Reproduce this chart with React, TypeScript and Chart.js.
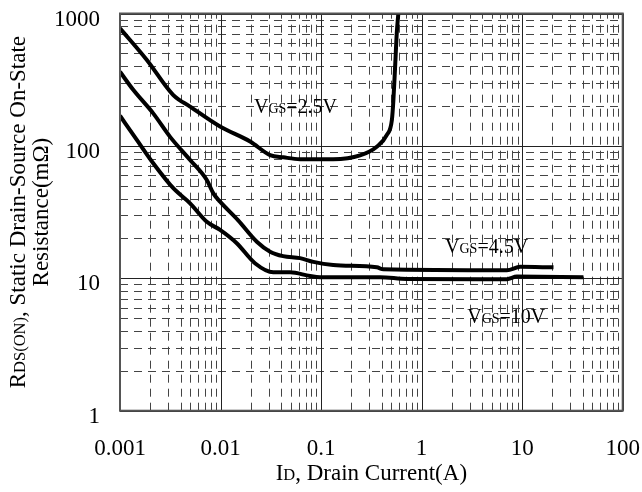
import React, { useEffect, useRef } from 'react';
import { Chart, registerables } from 'chart.js';

Chart.register(...registerables);

// ---- axis ticks ----
const X_TICK_VALUES = [0.001, 0.01, 0.1, 1, 10, 100];
const X_TICK_LABELS = ['0.001', '0.01', '0.1', '1', '10', '100'];
const Y_TICK_VALUES = [1, 10, 100, 1000];
const Y_TICK_LABELS = ['1', '10', '100', '1000'];

// ---- series: VGS = 2.5V ----
const ID_VGS25 = [0.001, 0.00185, 0.00339, 0.00498, 0.00989, 0.0197, 0.0311, 0.0422, 0.0618, 0.132, 0.244, 0.358, 0.451, 0.506, 0.524, 0.545, 0.566, 0.59];
const R_VGS25 = [773, 446, 242, 198, 140, 108, 85.3, 82, 79.3, 79.3, 84.7, 98.6, 121, 157, 222, 397, 710, 1050];

// ---- series: VGS = 4.5V ----
const ID_VGS45 = [0.001, 0.00136, 0.00214, 0.00315, 0.00498, 0.0073, 0.00848, 0.00989, 0.0149, 0.0231, 0.0311, 0.0419, 0.0618, 0.0838, 0.132, 0.358, 0.417, 7.05, 9.55, 20.5];
const R_VGS45 = [363, 264, 176, 117, 78.3, 55.2, 43.8, 37.9, 27.5, 18.8, 15.9, 14.7, 14.2, 13.3, 12.6, 12.1, 11.7, 11.5, 12.2, 12.1];

// ---- series: VGS = 10V ----
const ID_VGS10 = [0.001, 0.00147, 0.00214, 0.00339, 0.00498, 0.0073, 0.00989, 0.0145, 0.022, 0.0335, 0.0492, 0.0778, 0.0977, 0.386, 0.713, 7.05, 8.85, 40.7];
const R_VGS10 = [169, 111, 74, 47.9, 36.8, 26.7, 23.2, 18.4, 13.0, 11.1, 11.1, 10.4, 10.2, 10.2, 9.88, 9.85, 10.3, 10.2];

// ---- curve labels (anchored in data coordinates) ----
const LABEL_VALUES = ['=2.5V', '=4.5V', '=10V'];
const LABEL_ID = [0.0215, 1.71, 2.84];
const LABEL_R = [177, 15.5, 4.6];

const FONT = "'Liberation Serif', 'Times New Roman', serif";
const MAIN = 23;
const SMALL = 16.5;

type Part = [string, number];

function richWidth(ctx: CanvasRenderingContext2D, parts: Part[]) {
  let w = 0;
  for (const [t, s] of parts) {
    ctx.font = `${s}px ${FONT}`;
    w += ctx.measureText(t).width;
  }
  return w;
}

function drawRich(ctx: CanvasRenderingContext2D, parts: Part[], x: number, y: number, align: 'left' | 'center' | 'right') {
  const w = richWidth(ctx, parts);
  let cx = align === 'center' ? x - w / 2 : align === 'right' ? x - w : x;
  ctx.textAlign = 'left';
  ctx.textBaseline = 'alphabetic';
  ctx.fillStyle = '#000';
  for (const [t, s] of parts) {
    ctx.font = `${s}px ${FONT}`;
    ctx.fillText(t, cx, y);
    cx += ctx.measureText(t).width;
  }
}

const toPts = (xs: number[], ys: number[]) => xs.map((x, i) => ({ x, y: ys[i] }));

const decorPlugin = {
  id: 'decor',
  beforeDatasetsDraw(chart: any) {
    const { ctx, chartArea: a, scales } = chart;
    const xs = scales.x;
    const ys = scales.y;
    ctx.save();
    ctx.lineWidth = 1;
    // minor grid
    ctx.strokeStyle = '#444';
    ctx.setLineDash([8, 6]);
    for (let e = -3; e < 2; e++) {
      for (let k = 2; k <= 9; k++) {
        const px = Math.round(xs.getPixelForValue(k * Math.pow(10, e))) + 0.5;
        ctx.beginPath();
        ctx.moveTo(px, a.bottom);
        ctx.lineTo(px, a.top);
        ctx.stroke();
      }
    }
    for (let e = 0; e < 3; e++) {
      for (let k = 2; k <= 9; k++) {
        const py = Math.round(ys.getPixelForValue(k * Math.pow(10, e))) + 0.5;
        ctx.beginPath();
        ctx.moveTo(a.left, py);
        ctx.lineTo(a.right, py);
        ctx.stroke();
      }
    }
    // major grid
    ctx.setLineDash([]);
    ctx.strokeStyle = '#222';
    for (const v of X_TICK_VALUES) {
      const px = Math.round(xs.getPixelForValue(v)) + 0.5;
      ctx.beginPath();
      ctx.moveTo(px, a.bottom);
      ctx.lineTo(px, a.top);
      ctx.stroke();
    }
    for (const v of Y_TICK_VALUES) {
      const py = Math.round(ys.getPixelForValue(v)) + 0.5;
      ctx.beginPath();
      ctx.moveTo(a.left, py);
      ctx.lineTo(a.right, py);
      ctx.stroke();
    }
    ctx.restore();
  },
  afterDatasetsDraw(chart: any) {
    const { ctx, chartArea: a, scales } = chart;
    ctx.save();
    ctx.strokeStyle = '#555';
    ctx.lineWidth = 2;
    ctx.strokeRect(a.left, a.top, a.right - a.left, a.bottom - a.top);
    // curve labels
    for (let i = 0; i < LABEL_VALUES.length; i++) {
      const px = scales.x.getPixelForValue(LABEL_ID[i]);
      const py = scales.y.getPixelForValue(LABEL_R[i]);
      drawRich(ctx, [['V', 20], ['GS', 14], [LABEL_VALUES[i], 20]], px, py, 'left');
    }
    ctx.restore();
  },
  afterDraw(chart: any) {
    const { ctx, chartArea: a, scales } = chart;
    ctx.save();
    // tick labels
    X_TICK_VALUES.forEach((v, i) => {
      drawRich(ctx, [[X_TICK_LABELS[i], MAIN]], scales.x.getPixelForValue(v), a.bottom + 44, 'center');
    });
    Y_TICK_VALUES.forEach((v, i) => {
      drawRich(ctx, [[Y_TICK_LABELS[i], MAIN]], a.left - 20, scales.y.getPixelForValue(v) + 12, 'right');
    });
    // x title
    drawRich(ctx, [['I', MAIN], ['D', SMALL], [', Drain Current(A)', MAIN]], (a.left + a.right) / 2, 480, 'center');
    // y title (two lines, rotated)
    const cy = (a.top + a.bottom) / 2;
    ctx.translate(0, cy);
    ctx.rotate(-Math.PI / 2);
    drawRich(ctx, [['R', MAIN], ['DS(ON)', SMALL], [', Static Drain-Source On-State', MAIN]], 0, 25, 'center');
    drawRich(ctx, [['Resistance(mΩ)', MAIN]], 0, 48, 'center');
    ctx.restore();
  },
};

export default function App() {
  const ref = useRef<HTMLCanvasElement | null>(null);

  useEffect(() => {
    document.body.style.margin = '0';
    if (!ref.current) return;
    const lineStyle = {
      borderColor: '#000',
      borderWidth: 4,
      pointRadius: 0,
      fill: false,
      cubicInterpolationMode: 'monotone' as const,
      borderJoinStyle: 'round' as const,
      borderCapStyle: 'butt' as const,
    };
    const chart = new Chart(ref.current, {
      type: 'line',
      data: {
        datasets: [
          { label: 'VGS=2.5V', data: toPts(ID_VGS25, R_VGS25), ...lineStyle },
          { label: 'VGS=4.5V', data: toPts(ID_VGS45, R_VGS45), ...lineStyle },
          { label: 'VGS=10V', data: toPts(ID_VGS10, R_VGS10), ...lineStyle },
        ],
      },
      options: {
        animation: false,
        responsive: true,
        maintainAspectRatio: false,
        layout: { padding: { left: 120, top: 13.5, right: 19.3, bottom: 81.3 } },
        plugins: { legend: { display: false }, tooltip: { enabled: false }, title: { display: false } },
        scales: {
          x: {
            type: 'logarithmic',
            min: 0.001,
            max: 100,
            grid: { display: false },
            border: { display: false },
            ticks: { display: false },
            afterFit: (s: any) => {
              s.height = 0;
            },
          },
          y: {
            type: 'logarithmic',
            min: 1,
            max: 1000,
            grid: { display: false },
            border: { display: false },
            ticks: { display: false },
            afterFit: (s: any) => {
              s.width = 0;
            },
          },
        },
      },
      plugins: [decorPlugin],
    });
    return () => chart.destroy();
  }, []);

  return (
    <div style={{ width: 642, height: 492, position: 'relative' }}>
      <canvas ref={ref} />
    </div>
  );
}
